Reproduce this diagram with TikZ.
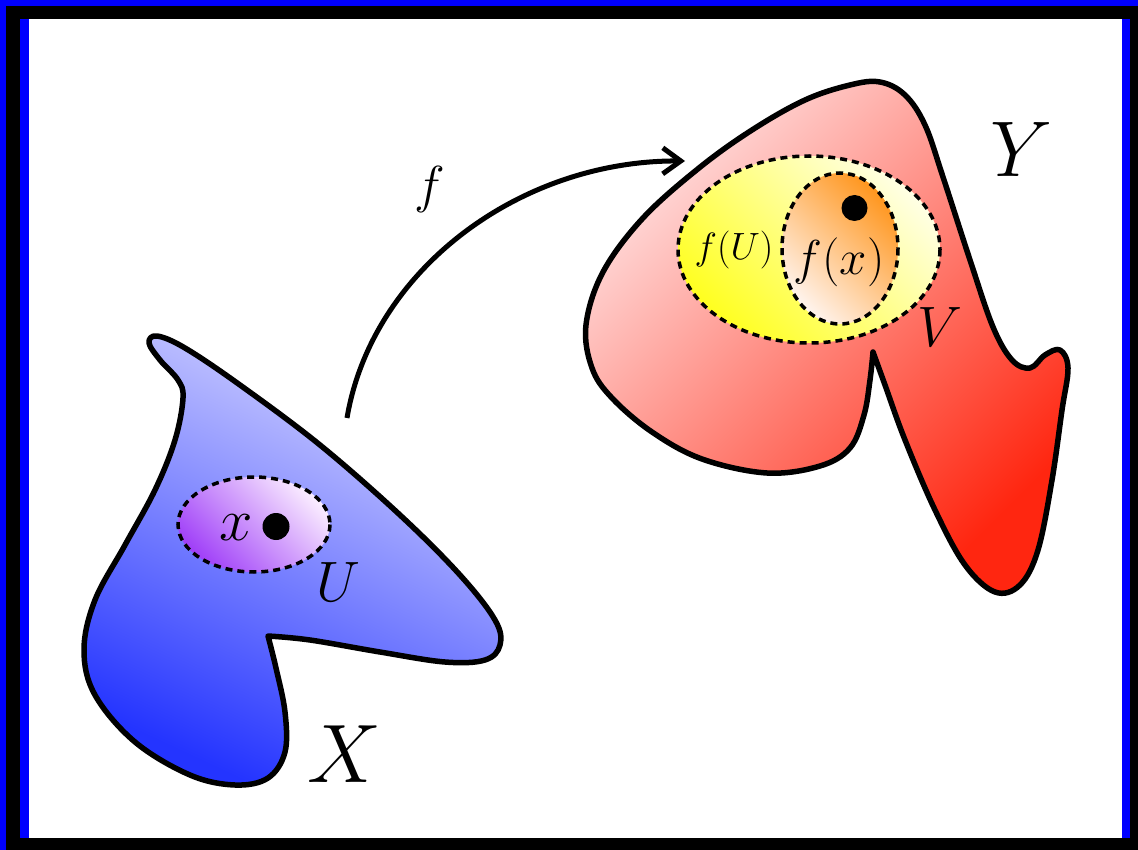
\RequirePackage{fix-cm}
\documentclass[tikz,border=0pt]{standalone}
\usetikzlibrary{arrows.meta}
\definecolor{frameblue}{RGB}{0,0,255}
\definecolor{bluetop}{RGB}{214,214,255}
\definecolor{bluebot}{RGB}{36,52,255}
\definecolor{redtop}{RGB}{255,222,222}
\definecolor{redbot}{RGB}{255,38,16}
\definecolor{purplelight}{RGB}{250,236,255}
\definecolor{purpledark}{RGB}{160,64,248}
\definecolor{yellowlight}{RGB}{255,255,228}
\definecolor{yellowdark}{RGB}{255,255,32}
\definecolor{orangedark}{RGB}{255,150,30}
\definecolor{orangelight}{RGB}{255,244,238}
\tikzset{
  outline/.style={draw=black, line width=5.5pt, line join=round},
  dashedge/.style={draw=black, line width=3.5pt, dash pattern=on 7pt off 5pt},
  lbl/.style={inner sep=0pt, anchor=base},
  dot/.style={fill=black},
}
\newcommand{\fsz}[1]{\fontsize{#1}{#1}\selectfont}
\begin{document}
\begin{tikzpicture}[x=1pt,y=-1pt]
\useasboundingbox (0,0) rectangle (1138,850);
% frame
\fill[frameblue] (0,0) rectangle (1138,850);
\fill[black] (6,6) rectangle (1138,850);
\fill[frameblue] (20,19) rectangle (1130,838);
\fill[white] (29,19) rectangle (1122,838);

% X blob
\path[outline, top color=bluetop, bottom color=bluebot, shading angle=-25]
  plot[smooth, tension=0.6] coordinates {(268,636) (276,668) (285,712) (285,752) (268,778) (235,785) (190,775) (135,742) (95,695) (84,650) (95,600) (125,545) (155,490) (175,440) (183,398) (178,380) (160,360) (149,343) (157,336) (185,348) (240,385) (320,445) (400,515) (460,575) (495,620) (500,645) (485,660) (445,662) (380,652) (310,640) (268,636)} -- cycle;

% Y blob
\path[outline, top color=redtop, bottom color=redbot, shading angle=45]
  plot[smooth, tension=0.6] coordinates {(873,352) (885,385) (905,440) (935,510) (965,565) (995,592) (1020,585) (1038,550) (1052,480) (1062,410) (1068,368) (1060,350) (1045,355) (1030,368) (1012,360) (993,327) (970,260) (943,177) (925,125) (905,95) (880,82) (850,85) (805,100) (752,130) (699,168) (643,218) (603,272) (586,325) (592,368) (612,398) (652,432) (702,459) (767,473) (820,466) (850,448) (864,415) (870,380) (873,352)} -- cycle;

% U
\path[dashedge, top color=purplelight, bottom color=purpledark, shading angle=-45]
  (254,524.5) ellipse [x radius=76, y radius=47.5];
\fill[dot] (276,526.5) circle (13.5);
\node[lbl] (xlab) at (236,540) {\fsz{60}$x$};
\node[lbl] (Ulab) at (338,601) {\fsz{57}$U$};

% V and f(x)
\path[dashedge, top color=yellowlight, bottom color=yellowdark, shading angle=-45]
  (809,249.5) ellipse [x radius=131, y radius=93.5];
\path[dashedge, top color=orangedark, bottom color=orangelight, shading angle=-45]
  (840,248.5) ellipse [x radius=58, y radius=75.5];
\fill[dot] (854.5,208) circle (13);
\node[lbl] (fU) at (734,260) {\fsz{38}$f(U)$};
\node[lbl] (fx) at (839,275) {\fsz{49}$f(x)$};
\node[lbl] (Vlab) at (940,346) {\fsz{57}$V$};

% big labels
\node[lbl] (Xlab) at (344,782) {\fsz{83}$X$};
\node[lbl] (Ylab) at (1022,177) {\fsz{79}$Y$};
\node[lbl] (flab) at (430,203) {\fsz{52}$f$};

% arrow
\coordinate (fs) at (347,418);
\coordinate (fe) at (685,161);
\draw[line width=5pt, -{Straight Barb[length=18pt,width=26pt]}] (fs) .. controls (372,270) and (520,160) .. (fe);
\end{tikzpicture}
\end{document}
